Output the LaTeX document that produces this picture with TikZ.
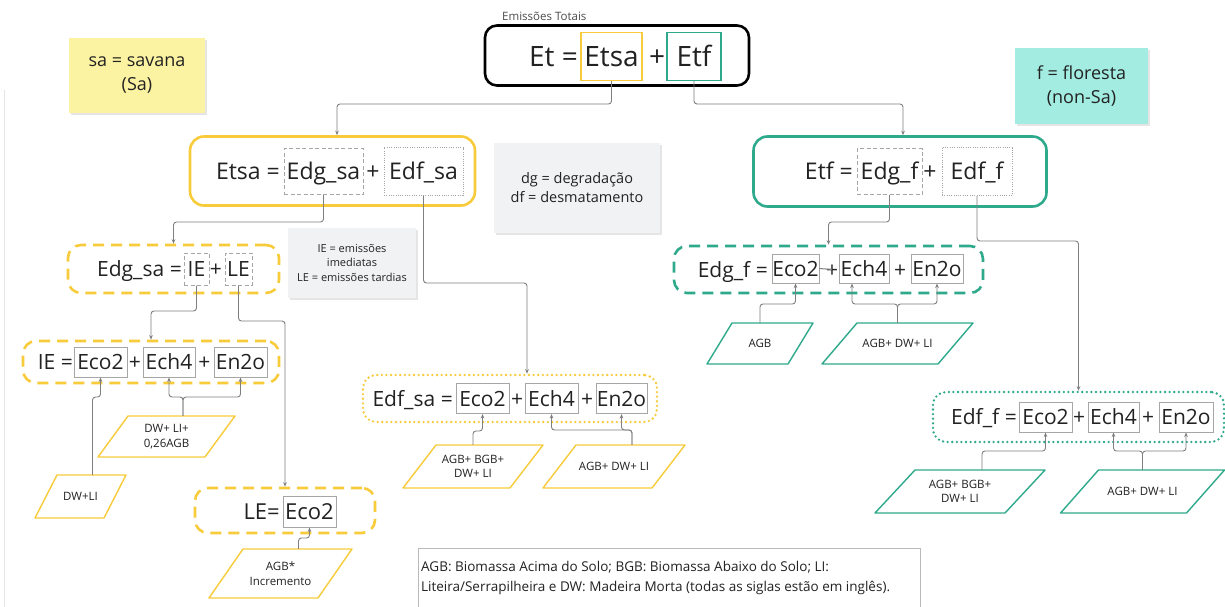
\documentclass[tikz,border=0pt]{standalone}
\usepackage{fontspec}
\setmainfont{Open Sans}
\usetikzlibrary{arrows.meta,shapes.geometric,shadows,calc}
\definecolor{yel}{HTML}{F8CB3A}
\definecolor{grn}{HTML}{2FA98B}
\definecolor{stY}{HTML}{FCF3A2}
\definecolor{stG}{HTML}{A3ECE1}
\definecolor{noteG}{HTML}{F1F2F4}
\definecolor{conn}{HTML}{7F7F7F}
\definecolor{ibox}{HTML}{A6A6A6}
\definecolor{txt}{HTML}{222222}
\newcommand\fEt{\fontsize{28}{32}\selectfont}
\newcommand\fTs{\fontsize{23}{27}\selectfont}
\newcommand\fRw{\fontsize{21}{25}\selectfont}
\newcommand\fLEr{\fontsize{22}{26}\selectfont}
\newcommand\fSm{\fontsize{11.5}{14.5}\selectfont}
% #1 name, #2 x, #3 y, #4 width, #5 height, #6 skew, #7 colour, #8 text
\newcommand\paral[8]{%
  \node[ptxt, minimum width=#4, minimum height=#5] (#1) at (#2,#3) {#8};
  \draw[#7, line width=1.4, line join=round]
    ($(#1.center)+({-#4/2+#6},{-#5/2})$) -- ++({#4-#6},0) -- ++({-#6},#5)
    -- ++({#6-#4},0) -- cycle;}
\begin{document}
\begin{tikzpicture}[x=1pt,y=-1pt,
  every node/.style={text=txt},
  etx/.style={font=\fEt, inner sep=0, text height=20pt, text depth=0pt},
  tsx/.style={font=\fTs, inner sep=0, text height=16.4pt, text depth=0pt},
  rwx/.style={font=\fRw, inner sep=0, text height=15pt, text depth=0pt},
  lex/.style={font=\fLEr, inner sep=0, text height=15.7pt, text depth=0pt},
  gb/.style={draw=ibox, line width=1},
  gdash/.style={draw=ibox, line width=1, dash pattern=on 4pt off 2.5pt},
  gdot/.style={draw=ibox, line width=1, dash pattern=on 1pt off 1.3pt},
  bigbox/.style={line width=2.6, rounded corners=13},
  ydash/.style={bigbox, draw=yel, dash pattern=on 11pt off 7pt},
  gndash/.style={bigbox, draw=grn, dash pattern=on 11pt off 7pt},
  ydot/.style={bigbox, draw=yel, line cap=round, dash pattern=on 0pt off 4.6pt},
  gndot/.style={bigbox, draw=grn, line cap=round, dash pattern=on 0pt off 4.6pt},
  ptxt/.style={align=center, font=\fSm, inner sep=0},
  note/.style={align=center, inner sep=0,
     drop shadow={fill=black, opacity=0.10, shadow xshift=1.5pt, shadow yshift=-2pt}},
  arr/.style={draw=conn, line width=0.9, rounded corners=3, -{Stealth[length=4.5pt,width=3.6pt]}}
]
\useasboundingbox (0,0) rectangle (1225,607);
\clip (0,0) rectangle (1225,607);
\fill[white] (0,0) rectangle (1225,607);
\draw[gray!20, line width=1] (4,90) -- (4,607);

% ---------- top ----------
\node[font=\fontsize{11.5}{14}\selectfont, text=gray!60!black, anchor=base west, inner sep=0] (title) at (502,21) {Emissões Totais};
\node[draw=black, line width=2.6, rounded corners=12, minimum width=264, minimum height=60] (EtBox) at (617,55.5) {};
\node[etx, anchor=east] (etL) at (578,56.5) {Et =};
\node[etx, draw=yel, line width=1.3, minimum width=61, minimum height=48] (bEtsa) at (611.5,56.5) {Etsa};
\node[etx] (etP) at (657,56.5) {+};
\node[etx, draw=grn, line width=1.3, minimum width=54, minimum height=48] (bEtf) at (694,56.5) {Etf};

% ---------- sticky notes ----------
\node[note, fill=stY, minimum width=136, minimum height=75, font=\fontsize{18}{24}\selectfont] (stSa) at (137,75.5) {sa = savana\\(Sa)};
\node[note, fill=stG, minimum width=133, minimum height=76, font=\fontsize{18}{24}\selectfont] (stF) at (1081.5,86) {f = floresta\\(non-Sa)};
\node[note, fill=noteG, minimum width=166, minimum height=90, font=\fontsize{14.5}{19}\selectfont] (nDg) at (577,188) {dg = degradação\\df = desmatamento};
\node[note, fill=noteG, minimum width=128, minimum height=70, font=\fontsize{11}{14.5}\selectfont] (nIE) at (352,263) {IE = emissões\\imediatas\\LE = emissões tardias};

% ---------- Etsa ----------
\node[bigbox, draw=yel, rounded corners=14, minimum width=285, minimum height=69] (EtsaBox) at (332.5,171) {};
\node[tsx, anchor=east] (etsaL) at (280,171.5) {Etsa =};
\node[tsx, gdash, minimum width=79, minimum height=46] (bEdgsa) at (323.5,171.5) {Edg\_sa};
\node[tsx] (etsaP) at (373,171.5) {+};
\node[tsx, gdot, minimum width=79, minimum height=48] (bEdfsa) at (423.5,171.5) {Edf\_sa};

% ---------- Etf ----------
\node[bigbox, draw=grn, rounded corners=14, minimum width=293, minimum height=70] (EtfBox) at (900,171.5) {};
\node[tsx, anchor=east] (etfL) at (853,171.5) {Etf =};
\node[tsx, gdash, minimum width=65, minimum height=46] (bEdgf) at (889.5,171.5) {Edg\_f};
\node[tsx] (etfP) at (930,171.5) {+};
\node[tsx, gdot, minimum width=70, minimum height=48] (bEdff) at (977,171.5) {Edf\_f};

% ---------- Edg_sa ----------
\node[ydash, minimum width=211, minimum height=48] (EdgsaBox) at (173.5,269) {};
\node[rwx, anchor=east] (edgsaL) at (182,269) {Edg\_sa =};
\node[rwx, gdash, minimum width=25, minimum height=32] (bIE) at (196.5,269) {IE};
\node[rwx] (edgsaP) at (216,269) {+};
\node[rwx, gdash, minimum width=27, minimum height=32] (bLE) at (238.5,269) {LE};

% ---------- IE ----------
\node[ydash, minimum width=256, minimum height=42] (IEBox) at (151,362) {};
\node[rwx, anchor=east] (ieL) at (73,362) {IE =};
\node[rwx, gb, minimum width=53, minimum height=30] (ieEco2) at (100.5,362) {Eco2};
\node[rwx] (ieP1) at (135,362) {+};
\node[rwx, gb, minimum width=52, minimum height=30] (ieEch4) at (169,362) {Ech4};
\node[rwx] (ieP2) at (204.5,362) {+};
\node[rwx, gb, minimum width=53, minimum height=30] (ieEn2o) at (240.5,362) {En2o};

% ---------- LE ----------
\node[ydash, minimum width=180, minimum height=45] (LEBox) at (285,510.5) {};
\node[lex, anchor=east] (leL) at (280,511.5) {LE=};
\node[lex, gb, minimum width=53, minimum height=31] (leEco2) at (309.5,511.5) {Eco2};

% ---------- Edf_sa ----------
\node[ydot, minimum width=294, minimum height=47] (EdfsaBox) at (510,398.5) {};
\node[rwx, anchor=east] (dfsaL) at (453,398.5) {Edf\_sa =};
\node[rwx, gb, minimum width=53, minimum height=30] (saEco2) at (482.5,398.5) {Eco2};
\node[rwx] (saP1) at (517,398.5) {+};
\node[rwx, gb, minimum width=53, minimum height=30] (saEch4) at (551.5,398.5) {Ech4};
\node[rwx] (saP2) at (587,398.5) {+};
\node[rwx, gb, minimum width=51, minimum height=30] (saEn2o) at (621.5,398.5) {En2o};

% ---------- Edg_f ----------
\node[gndash, minimum width=309, minimum height=47] (EdgfBox) at (828.5,269.5) {};
\node[rwx, anchor=east] (edgfL) at (768,269.5) {Edg\_f =};
\node[rwx, gb, minimum width=47, minimum height=29] (gfEco2) at (795.5,268.5) {Eco2};
\node[rwx] (gfP1) at (832,269.5) {+};
\node[rwx, gb, minimum width=50, minimum height=29] (gfEch4) at (864,268.5) {Ech4};
\node[rwx] (gfP2) at (900,269.5) {+};
\node[rwx, gb, minimum width=52, minimum height=29] (gfEn2o) at (937,268.5) {En2o};
\draw[conn, line width=1] (gfEco2.east) -- (gfP1.center);

% ---------- Edf_f ----------
\node[gndot, minimum width=291, minimum height=50] (EdffBox) at (1078.5,417) {};
\node[rwx, anchor=east] (edffL) at (1017,417) {Edf\_f =};
\node[rwx, gb, minimum width=53, minimum height=30] (ffEco2) at (1045.5,417) {Eco2};
\node[rwx] (ffP1) at (1079,417) {+};
\node[rwx, gb, minimum width=51, minimum height=30] (ffEch4) at (1113.5,417) {Ech4};
\node[rwx] (ffP2) at (1148,417) {+};
\node[rwx, gb, minimum width=54, minimum height=30] (ffEn2o) at (1186,417) {En2o};

% ---------- parallelograms ----------
\paral{pDWLI}{80.5}{496.5}{91}{43}{22}{yel}{DW+LI}
\paral{pIEb}{166.5}{436.5}{137}{41}{30}{yel}{DW+ LI+\\0,26AGB}
\paral{pLE}{280.5}{573.5}{143}{49}{34}{yel}{AGB*\\Incremento}
\paral{pSaA}{473}{466.5}{140}{43}{33}{yel}{AGB+ BGB+\\DW+ LI}
\paral{pSaB}{614}{466.5}{142}{43}{33}{yel}{AGB+ DW+ LI}
\paral{pGfA}{760}{343.5}{106}{41}{25}{grn}{AGB}
\paral{pGfB}{897.5}{343.5}{151}{41}{35}{grn}{AGB+ DW+ LI}
\paral{pFfA}{960}{491.5}{170}{43}{40}{grn}{AGB+ BGB+\\DW+ LI}
\paral{pFfB}{1142.5}{491.5}{164}{43}{38}{grn}{AGB+ DW+ LI}

% ---------- legend ----------
\node[draw=gray!55, line width=1.2, minimum width=502, minimum height=72, anchor=north west] (legBox) at (418,548) {};
\node[anchor=north west, align=left, inner sep=0, font=\fontsize{13.5}{20}\selectfont] (legTxt) at (421,561) {AGB: Biomassa Acima do Solo; BGB: Biomassa Abaixo do Solo; LI:\\Liteira/Serrapilheira e DW: Madeira Morta (todas as siglas estão em inglês).};

% ---------- connectors ----------
\draw[arr] (bEtsa.south) -- (bEtsa.south |- 0,104) -| ([xshift=4.5pt]EtsaBox.north);
\draw[arr] (bEtf.south) -- (bEtf.south |- 0,104) -| ([xshift=3pt]EtfBox.north);
\draw[arr] (bEdgsa.south) -- (bEdgsa.south |- 0,222) -| (EdgsaBox.north);
\draw[arr] (bEdfsa.south) -- (bEdfsa.south |- 0,283) -| ([xshift=17pt]EdfsaBox.north);
\draw[arr] (bEdgf.south) -- (bEdgf.south |- 0,222) -| (EdgfBox.north);
\draw[arr] (bEdff.south) -- (bEdff.south |- 0,241) -| (EdffBox.north);
\draw[arr] (bIE.south) -- (bIE.south |- 0,311) -| (IEBox.north);
\draw[arr] (bLE.south) -- (bLE.south |- 0,321) -| (LEBox.north);

\coordinate (cDWLI) at ([xshift=12pt]pDWLI.north);
\draw[arr] (cDWLI) -- (cDWLI |- 0,397) -| (ieEco2.south);
\coordinate (cIEb) at ([xshift=16.5pt]pIEb.north);
\draw[arr] (cIEb) -- (cIEb |- 0,397) -| (ieEch4.south);
\draw[arr] (cIEb) -- (cIEb |- 0,397) -| (ieEn2o.south);
\coordinate (cLE) at ([xshift=18pt]pLE.north);
\draw[arr] (cLE) -- (cLE |- 0,538) -| (leEco2.south);
\draw[arr] (pSaA.north) -- (pSaA.north |- 0,431) -| (saEco2.south);
\coordinate (cSaB) at ([xshift=18pt]pSaB.north);
\draw[arr] (cSaB) -- (cSaB |- 0,430) -| (saEch4.south);
\draw[arr] (cSaB) -- (cSaB |- 0,430) -| (saEn2o.south);
\draw[arr] (pGfA.north) -- (pGfA.north |- 0,304) -| (gfEco2.south);
\draw[arr] (pGfB.north) -- (pGfB.north |- 0,304) -| ([xshift=-12pt]gfEch4.south);
\draw[arr] (pGfB.north) -- (pGfB.north |- 0,304) -| (gfEn2o.south);
\coordinate (cFfA) at ([xshift=22pt]pFfA.north);
\draw[arr] (cFfA) -- (cFfA |- 0,451) -| (ffEco2.south);
\draw[arr] (pFfB.north) -- (pFfB.north |- 0,451) -| (ffEch4.south);
\draw[arr] (pFfB.north) -- (pFfB.north |- 0,451) -| (ffEn2o.south);
\end{tikzpicture}
\end{document}
